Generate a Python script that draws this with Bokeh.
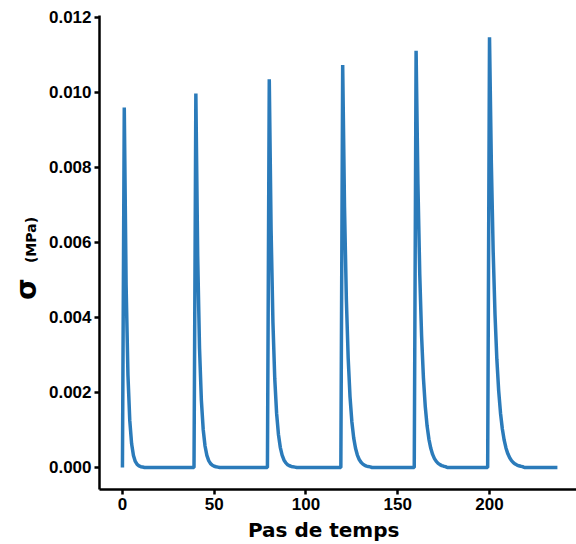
import numpy as np
from bokeh.plotting import figure
from bokeh.layouts import row, column
from bokeh.models import Range1d, FixedTicker, NumeralTickFormatter
from bokeh.core.properties import value
from bokeh.embed import file_html
from bokeh.resources import INLINE

# ---- data ----
n_steps = 238                      # time steps 0..237
pulse_onsets = [1, 40, 80, 120, 160, 200]   # step of each stress peak
pulse_1 = [0.009600, 0.004864, 0.002464, 0.001248, 0.000632, 0.000320, 0.000162, 0.000082,
           0.000042, 0.000021, 0.000011]
pulse_2 = [0.009970, 0.005630, 0.003179, 0.001795, 0.001014, 0.000573, 0.000323, 0.000183,
           0.000103, 0.000058, 0.000033, 0.000019, 0.000010]
pulse_3 = [0.010350, 0.006324, 0.003864, 0.002361, 0.001442, 0.000881, 0.000538, 0.000329,
           0.000201, 0.000123, 0.000075, 0.000046, 0.000028, 0.000017, 0.000010]
pulse_4 = [0.010730, 0.006947, 0.004497, 0.002912, 0.001885, 0.001220, 0.000790, 0.000512,
           0.000331, 0.000214, 0.000139, 0.000090, 0.000058, 0.000038, 0.000024, 0.000016]
pulse_5 = [0.011110, 0.007563, 0.005148, 0.003504, 0.002385, 0.001624, 0.001105, 0.000752,
           0.000512, 0.000349, 0.000237, 0.000162, 0.000110, 0.000075, 0.000051, 0.000035,
           0.000024]
pulse_6 = [0.011470, 0.008124, 0.005754, 0.004076, 0.002887, 0.002045, 0.001448, 0.001026,
           0.000727, 0.000515, 0.000364, 0.000258, 0.000183, 0.000130, 0.000092, 0.000065,
           0.000046, 0.000033, 0.000023]
x_ticks = [0, 50, 100, 150, 200]
y_ticks = [0.000, 0.002, 0.004, 0.006, 0.008, 0.010, 0.012]
x_title = "Pas de temps"
y_symbol = "σ"
y_unit = "(MPa)"

pulses = [pulse_1, pulse_2, pulse_3, pulse_4, pulse_5, pulse_6]
steps = np.arange(n_steps)
sigma = np.zeros(n_steps)
for onset, vals in zip(pulse_onsets, pulses):
    sigma[onset:onset + len(vals)] = vals

H = 543          # total height
LABEL_W = 44     # left strip for the y title
MAIN_W = 576 - LABEL_W
MAIN_H = 517
BOT_H = H - MAIN_H


def strip(w, h):
    f = figure(width=w, height=h, output_backend="svg", toolbar_location=None,
               x_range=Range1d(0, w), y_range=Range1d(0, h),
               x_axis_type=None, y_axis_type=None, min_border=0)
    f.outline_line_color = None
    f.grid.visible = False
    return f


# ---- left strip: rotated y-axis title ----
lab = strip(LABEL_W, H)
lab.text(x=[25.5], y=[H - 288.5], text=[y_symbol], angle=np.pi / 2,
         text_align="center", text_baseline="middle",
         text_font=value("DejaVu Sans"), text_font_style="bold",
         text_font_size="28px", text_color="black")
lab.text(x=[30.5], y=[H - 239.5], text=[y_unit], angle=np.pi / 2,
         text_align="center", text_baseline="middle",
         text_font=value("DejaVu Sans"), text_font_style="bold",
         text_font_size="14px", text_color="black")

# ---- main chart ----
p = figure(width=MAIN_W, height=MAIN_H, output_backend="svg", toolbar_location=None,
           x_range=Range1d(-12.5, 247.4), y_range=Range1d(-0.000587, 0.012053),
           min_border_left=99 - LABEL_W, min_border_right=0, min_border_top=15,
           min_border_bottom=28)
p.outline_line_color = None
p.grid.visible = False
p.background_fill_color = "white"
p.border_fill_color = "white"

p.line(steps, sigma, line_color="#2b7bba", line_width=3.5)

for ax in (p.xaxis[0], p.yaxis[0]):
    ax.axis_line_width = 2.5
    ax.axis_line_color = "black"
    ax.major_tick_line_width = 2.5
    ax.major_tick_line_color = "black"
    ax.major_tick_out = 5
    ax.major_tick_in = 0
    ax.minor_tick_out = 0
    ax.minor_tick_in = 0
    ax.major_label_text_font = "Liberation Sans"
    ax.major_label_text_font_style = "bold"
    ax.major_label_text_font_size = "17px"
    ax.major_label_text_color = "black"

p.xaxis.ticker = FixedTicker(ticks=x_ticks)
p.yaxis.ticker = FixedTicker(ticks=y_ticks)
p.yaxis.formatter = NumeralTickFormatter(format="0.000")
p.xaxis.major_label_standoff = 3
p.yaxis.major_label_standoff = 3

# ---- bottom strip: x-axis title ----
bot = strip(MAIN_W, BOT_H)
bot.text(x=[250], y=[14], text=[x_title],
         text_align="center", text_baseline="middle",
         text_font=value("DejaVu Sans"), text_font_style="bold",
         text_font_size="20px", text_color="black")

layout = row(lab, column(p, bot, spacing=0), spacing=0)
open("out.html", "w").write(file_html(layout, INLINE))
